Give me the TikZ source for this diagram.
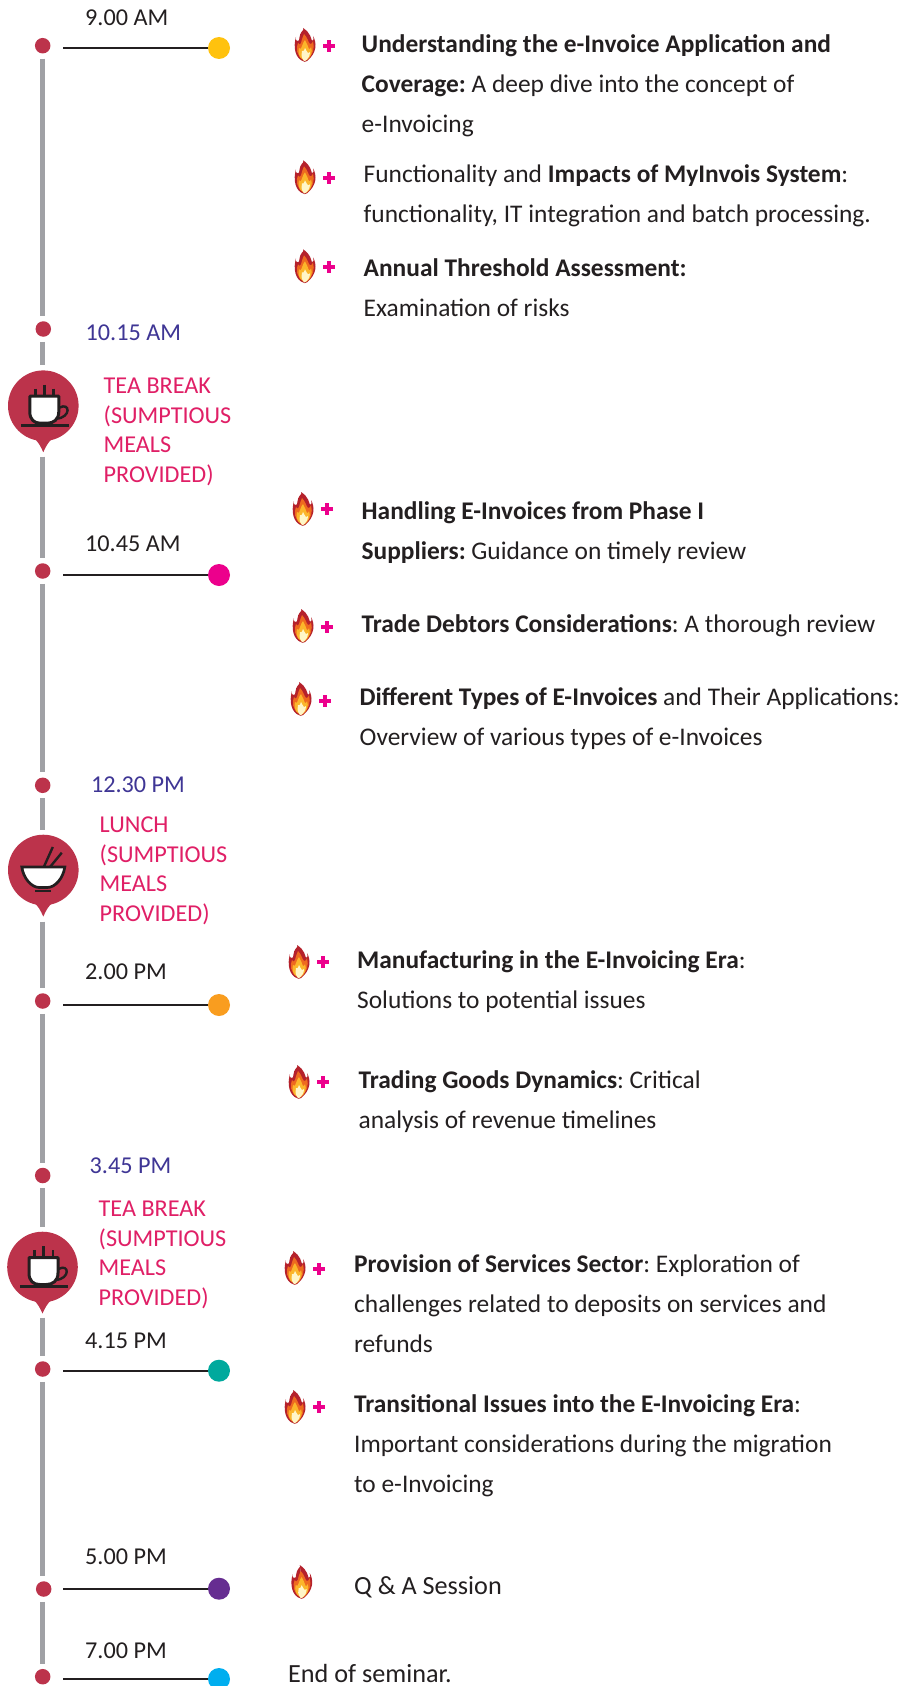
\documentclass[tikz,border=0pt]{standalone}
\usepackage{fontspec}
\setmainfont{Carlito}
\definecolor{txt}{HTML}{231F20}
\definecolor{dotred}{HTML}{BC334B}
\definecolor{rail}{HTML}{A0A1A5}
\definecolor{timeblue}{HTML}{3F3695}
\definecolor{breakpink}{HTML}{E01F66}
\definecolor{plusc}{HTML}{EC008C}
\definecolor{fl1}{HTML}{B5212B}
\definecolor{fl2}{HTML}{EE6A1F}
\definecolor{fl3}{HTML}{FBB62B}
\definecolor{fl4}{HTML}{FFF6C8}
\tikzset{
  railline/.style={draw=rail,line width=5.2pt,shorten <=5pt,shorten >=5pt},
  dotn/.style={circle,fill=dotred,inner sep=0pt,minimum size=15.5pt},
  endn/.style={circle,fill=#1,inner sep=0pt,minimum size=22pt},
  tick/.style={draw=txt,line width=1.8pt},
  timelab/.style={anchor=west,font=\fontsize{24.2}{30}\selectfont\frenchspacing,text=txt,inner sep=0pt},
  bluelab/.style={timelab,text=timeblue},
  breaklab/.style={anchor=north west,align=left,font=\fontsize{24.2}{29.5}\selectfont\frenchspacing,text=breakpink,inner sep=0pt},
  item/.style={anchor=west,align=left,font=\fontsize{25.4}{40}\selectfont\frenchspacing,text=txt,inner sep=0pt},
  itembig/.style={item,font=\fontsize{26.2}{30}\selectfont\frenchspacing},
  bubblen/.style={circle,fill=dotred,inner sep=0pt,minimum size=70.6pt},
  flame/.pic={
    \fill[fl1] (-1,16.5) .. controls (-3,0) and (1,-6) .. (-2,-17)
      .. controls (6,-12) and (6,-6) .. (7,-4)
      .. controls (9,-4) and (9,-7) .. (8,-9)
      .. controls (12,-2) and (12,8) .. (2,16)
      .. controls (0,17) and (-1,17) .. (-1,16.5) -- cycle;
    \fill[fl1] (-1,-16) .. controls (-9,-8) and (-3,-4) .. (-8,-4) .. controls (-10,-6) and (-10,-7) .. (-9,-8)
      .. controls (-12,2) and (-10,14) .. (-1,16.5) -- cycle;
    \fill[fl2] (-1,15) .. controls (-9,12) and (-9,2) .. (-7,-2)
      .. controls (-6,0) and (-5,0) .. (-4,-2)
      .. controls (-3,-6) and (-2,-9) .. (-1,-11)
      .. controls (3,-7) and (3,-3) .. (5,-1)
      .. controls (7,-1) and (7,-2) .. (8,-4)
      .. controls (10,3) and (8,10) .. (2,15) -- cycle;
    \fill[fl3] (-1,15.5) .. controls (-7,12) and (-7,7) .. (-6,3)
      .. controls (-5,5) and (-4,4) .. (-3,1)
      .. controls (-2,-2) and (-1,-4) .. (0,-5)
      .. controls (2,-2) and (3,2) .. (4,4)
      .. controls (5,4) and (6,3) .. (6,2)
      .. controls (8,7) and (6,12) .. (1,15.5) -- cycle;
    \fill[fl4] (-1,16) .. controls (-4,12) and (-4,9) .. (-3,6)
      .. controls (-2,7) and (-1,6) .. (0,3)
      .. controls (1,5) and (2,7) .. (3,8)
      .. controls (4,8) and (4,8) .. (5,7)
      .. controls (5,11) and (3,14) .. (0,16) -- cycle;
  },
  plusmark/.pic={
    \fill[plusc] (-6,-2) rectangle (6,2);
    \fill[plusc] (-2,-6) rectangle (2,6);
  },
  tail/.pic={\fill[dotred] (-10,32) .. controls (-5,36) and (-3,40) .. (0,46.5) .. controls (3,40) and (5,36) .. (10,32) -- cycle;},
  cup/.pic={
    \draw[txt,line width=2.4pt] (16,2) .. controls (27,-4) and (28,12) .. (13,13);
    \draw[txt,line width=3pt,fill=white,line join=round] (-13.5,-9.5) -- (15.5,-9.5) -- (15.5,6) .. controls (15.5,14) and (10,17.5) .. (4,17.5) -- (-3,17.5) .. controls (-9,17.5) and (-13.5,14) .. (-13.5,6) -- cycle;
    \draw[txt,line width=2.6pt] (-22.5,19.7) -- (25.5,19.7);
    \draw[txt,line width=2.6pt] (-8,-17) -- (-8,-10) (1,-21) -- (1,-10) (10.4,-17) -- (10.4,-10);
  },
  bowl/.pic={
    \draw[txt,line width=2.4pt] (0.5,-3) -- (9.5,-23) (6.7,-3) -- (18.5,-17.3);
    \fill[white,draw=txt,line width=2.7pt] (-21.5,-3) -- (21.5,-3) .. controls (20,8) and (12,17.5) .. (4,17.5) -- (-4,17.5) .. controls (-12,17.5) and (-20,8) .. (-21.5,-3) -- cycle;
    \draw[txt,line width=2.7pt] (-8,21) -- (8,21);
  },
}
\begin{document}
\begin{tikzpicture}[x=1pt,y=-1pt]
\useasboundingbox (0,0) rectangle (917,1686);
\clip (0,0) rectangle (917,1686);
\fill[white] (0,0) rectangle (917,1686);
% dots
\node[dotn] (d1) at (42.7,45.7) {};
\node[dotn] (d2) at (43.3,329) {};
\node[bubblen] (b1) at (43.3,405.7) {};
\node[dotn] (d3) at (42.7,571) {};
\node[dotn] (d4) at (42.7,785.3) {};
\node[bubblen] (b2) at (43.3,870) {};
\node[dotn] (d5) at (42.7,1001) {};
\node[dotn] (d6) at (42.7,1175.5) {};
\node[bubblen] (b3) at (42.5,1267) {};
\node[dotn] (d7) at (42.7,1369) {};
\node[dotn] (d8) at (43.7,1589) {};
\node[dotn] (d9) at (42.7,1676.7) {};
\pic at (b1) {tail}; \pic at (b2) {tail}; \pic at (b3) {tail};
\pic at (b1) {cup}; \pic at (b2) {bowl}; \pic at (b3) {cup};
% rail
\coordinate (rx) at (42.7,0);
\coordinate (t1) at (42.7,451.7);
\coordinate (t2) at (42.7,916.7);
\coordinate (t3) at (42.7,1312.7);
\draw[railline] (rx |- d1.south) -- (rx |- d2.north);
\draw[railline] (rx |- d2.south) -- (rx |- b1.north);
\draw[railline] (t1) -- (rx |- d3.north);
\draw[railline] (rx |- d3.south) -- (rx |- d4.north);
\draw[railline] (rx |- d4.south) -- (rx |- b2.north);
\draw[railline] (t2) -- (rx |- d5.north);
\draw[railline] (rx |- d5.south) -- (rx |- d6.north);
\draw[railline] (rx |- d6.south) -- (rx |- b3.north);
\draw[railline] (t3) -- (rx |- d7.north);
\draw[railline] (rx |- d7.south) -- (rx |- d8.north);
\draw[railline] (rx |- d8.south) -- (rx |- d9.north);
% ticks
\foreach \n/\y/\c in {1/48/FFC20E,3/575/EC008C,5/1005/F99D1F,7/1370.7/00A99D,8/1588.7/662D91,9/1679/00AEEF}{
  \definecolor{endc}{HTML}{\c}
  \coordinate (s\n) at (63,\y);
  \node[endn=endc] (e\n) at (219,\y) {};
  \draw[tick] (s\n) -- (e\n);
}
% time labels
\node[timelab] (l1) at (85,18) {9.00 AM};
\node[bluelab] (l2) at (85.5,333) {10.15 AM};
\node[timelab] (l3) at (85,543.5) {10.45 AM};
\node[bluelab] (l4) at (90.8,785) {12.30 PM};
\node[timelab] (l5) at (85,971.5) {2.00 PM};
\node[bluelab] (l6) at (89.5,1166) {3.45 PM};
\node[timelab] (l7) at (85,1341) {4.15 PM};
\node[timelab] (l8) at (85,1557) {5.00 PM};
\node[timelab] (l9) at (85,1651) {7.00 PM};
% breaks
\node[breaklab] (k1) at (103.5,378) {TEA BREAK\\(SUMPTIOUS\\MEALS\\PROVIDED)};
\node[breaklab] (k2) at (99.5,817) {LUNCH\\(SUMPTIOUS\\MEALS\\PROVIDED)};
\node[breaklab] (k3) at (98.5,1201) {TEA BREAK\\(SUMPTIOUS\\MEALS\\PROVIDED)};
% items
\foreach \x/\y in {305/45,305/177.3,305/266.3,303/509,303/626,301/699,299/962,299/1082,295/1268,295/1407}{
  \pic at (\x,\y) {flame};
}
\foreach \x/\y in {328.5/45.7,328.5/178,328.5/266.7,326.5/509,326.5/627,324.5/701,322.5/962,322.5/1082,319/1269,319/1407}{
  \pic at (\x,\y) {plusmark};
}
\pic at (301.7,1582) {flame};
\node[item] (i1) at (361.5,86.2) {\textbf{Understanding the e-Invoice Application and}\\\textbf{Coverage:} A deep dive into the concept of\\e-Invoicing};
\node[item] (i2) at (363.5,196) {Functionality and \textbf{Impacts of MyInvois System}:\\functionality, IT integration and batch processing.};
\node[item] (i3) at (363.5,288) {\textbf{Annual Threshold Assessment:}\\Examination of risks};
\node[item] (i4) at (361.5,532.5) {\textbf{Handling E-Invoices from Phase I}\\\textbf{Suppliers:} Guidance on timely review};
\node[item] (i5) at (361.5,626) {\textbf{Trade Debtors Considerations}: A thorough review};
\node[item] (i6) at (359.5,719) {\textbf{Different Types of E-Invoices} and Their Applications:\\Overview of various types of e-Invoices};
\node[item] (i7) at (357,982) {\textbf{Manufacturing in the E-Invoicing Era}:\\Solutions to potential issues};
\node[item] (i8) at (358.5,1102) {\textbf{Trading Goods Dynamics}: Critical\\analysis of revenue timelines};
\node[item] (i9) at (354,1304) {\textbf{Provision of Services Sector}: Exploration of\\challenges related to deposits on services and\\refunds};
\node[item] (i10) at (354,1446) {\textbf{Transitional Issues into the E-Invoicing Era}:\\Important considerations during the migration\\to e-Invoicing};
\node[itembig] (i11) at (354,1587) {Q \& A Session};
\node[itembig] (i12) at (288,1673.5) {End of seminar.};
\end{tikzpicture}
\end{document}
